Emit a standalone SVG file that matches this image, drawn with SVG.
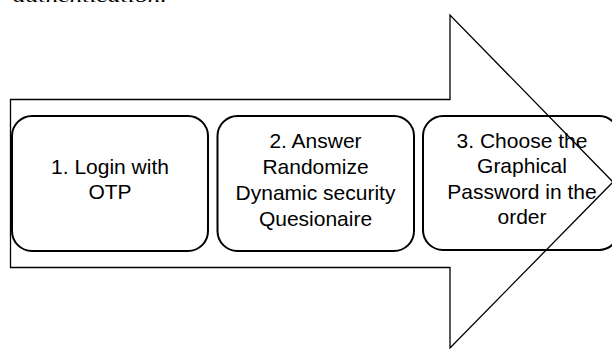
<svg xmlns="http://www.w3.org/2000/svg" width="612" height="349" viewBox="0 0 612 349">
<style>
.lbl{font-family:"Liberation Sans",Arial,sans-serif;font-size:21px;fill:#000;text-anchor:middle}
.box{fill:none;stroke:#000;stroke-width:2}
.arrow{fill:#fff;stroke:#000;stroke-width:1.3}
.cap{font-family:"Liberation Serif","Times New Roman",serif;font-style:italic;font-size:16px;fill:#000}
</style>
<rect width="612" height="349" fill="#fff"/>
<text class="cap" x="13" y="2" textLength="154" lengthAdjust="spacingAndGlyphs">authentication.</text>
<g id="arrow">
<polygon class="arrow" points="10.5,99.5 450,99.5 450,15 613,182 450,348 450,267.5 10.5,267.5"/>
</g>
<g id="connectors"></g>
<g id="step1">
<rect class="box" x="12" y="116" width="196" height="135" rx="20"/>
<text class="lbl" x="110" y="174">1. Login with</text>
<text class="lbl" x="110" y="199">OTP</text>
</g>
<g id="step2">
<rect class="box" x="217.5" y="116" width="196.5" height="135" rx="20"/>
<text class="lbl" x="315.5" y="148">2. Answer</text>
<text class="lbl" x="315.5" y="174">Randomize</text>
<text class="lbl" x="315.5" y="200">Dynamic security</text>
<text class="lbl" x="315.5" y="226">Quesionaire</text>
</g>
<g id="step3">
<rect class="box" x="423" y="116" width="196" height="134" rx="20"/>
<text class="lbl" x="522" y="148">3. Choose the</text>
<text class="lbl" x="522" y="173">Graphical</text>
<text class="lbl" x="522" y="199">Password in the</text>
<text class="lbl" x="522" y="224">order</text>
</g>
</svg>
